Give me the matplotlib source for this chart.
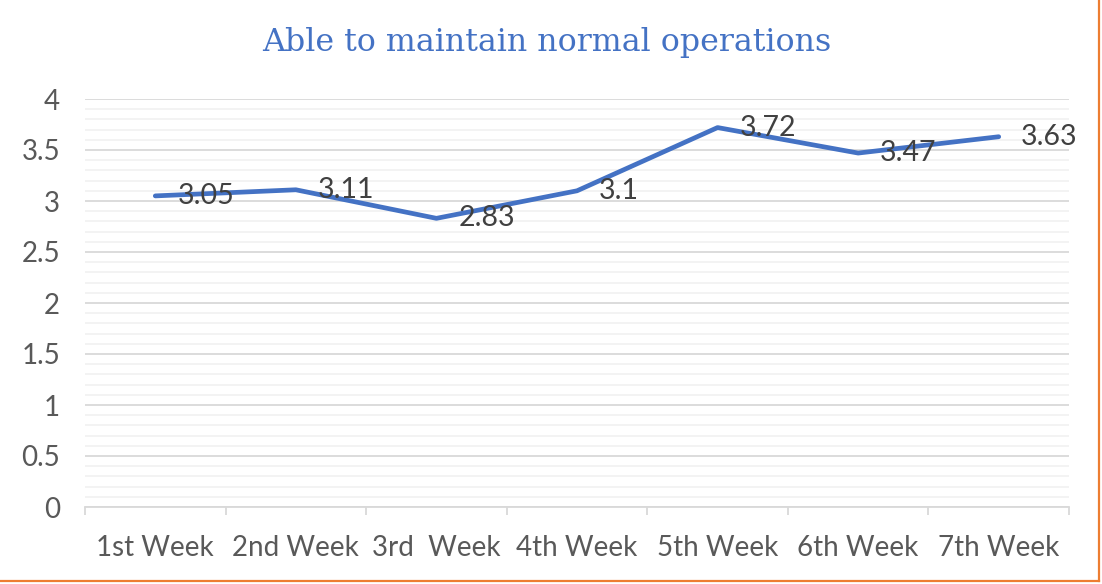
import matplotlib
matplotlib.use("Agg")
import matplotlib.pyplot as plt
from matplotlib.ticker import MultipleLocator, FixedLocator
from matplotlib.lines import Line2D

categories = ["1st Week", "2nd Week", "3rd  Week", "4th Week", "5th Week", "6th Week", "7th Week"]
values = [3.05, 3.11, 2.83, 3.1, 3.72, 3.47, 3.63]
value_labels = ["3.05", "3.11", "2.83", "3.1", "3.72", "3.47", "3.63"]
title = "Able to maintain normal operations"

W, H = 1102, 584
fig = plt.figure(figsize=(W / 100, H / 100), dpi=100)
ax = fig.add_axes([85 / W, 1 - 507 / H, (1069 - 85) / W, (507 - 99) / H])

x = list(range(len(categories)))
ax.plot(x, values, color="#4472C4", lw=3.4, solid_capstyle="round", solid_joinstyle="round", zorder=3)

for xi, v, lab in zip(x, values, value_labels):
    ax.annotate(lab, (xi, v), xytext=(22, 0), textcoords="offset pixels",
                ha="left", va="center", fontsize=20.5, color="#404040", family="Lato", zorder=4)

ax.set_xlim(-0.5, len(categories) - 0.5)
ax.set_ylim(0, 4)
ax.yaxis.set_minor_locator(MultipleLocator(0.1))
ax.set_yticks([0, 0.5, 1, 1.5, 2, 2.5, 3, 3.5, 4])
ax.set_yticklabels(["0", "0.5", "1", "1.5", "2", "2.5", "3", "3.5", "4"])
ax.grid(which="major", axis="y", color="#d9d9d9", lw=1.3, zorder=1)
ax.grid(which="minor", axis="y", color="#f2f2f2", lw=1.3, zorder=0)
ax.set_axisbelow(True)

ax.set_xticks(x)
ax.set_xticklabels(categories)
ax.xaxis.set_minor_locator(FixedLocator([i - 0.5 for i in range(len(categories) + 1)]))
ax.tick_params(axis="x", which="major", length=0, pad=20, labelsize=20, labelcolor="#595959")
ax.tick_params(axis="x", which="minor", length=6, width=1.3, color="#d9d9d9", direction="out")
ax.tick_params(axis="y", which="both", length=0, pad=18, labelsize=20, labelcolor="#595959")
for lab in ax.get_xticklabels() + ax.get_yticklabels():
    lab.set_family("Lato")

for s in ["top", "right", "left"]:
    ax.spines[s].set_visible(False)
ax.spines["bottom"].set_color("#d9d9d9")
ax.spines["bottom"].set_linewidth(1.3)
ax.spines["bottom"].set_zorder(2)

fig.text(547 / W, 1 - 42 / H, title, ha="center", va="center", fontsize=22.8,
         color="#4472C4", family="DejaVu Serif")

# orange frame edges (right and bottom)
fig.add_artist(Line2D([1099 / W, 1099 / W], [1 - 581 / H, 1], transform=fig.transFigure, color="#ED7D31", lw=1.6))
fig.add_artist(Line2D([0, 1099 / W], [1 - 581 / H, 1 - 581 / H], transform=fig.transFigure, color="#ED7D31", lw=1.6))

fig.savefig("out.png", dpi=100)
